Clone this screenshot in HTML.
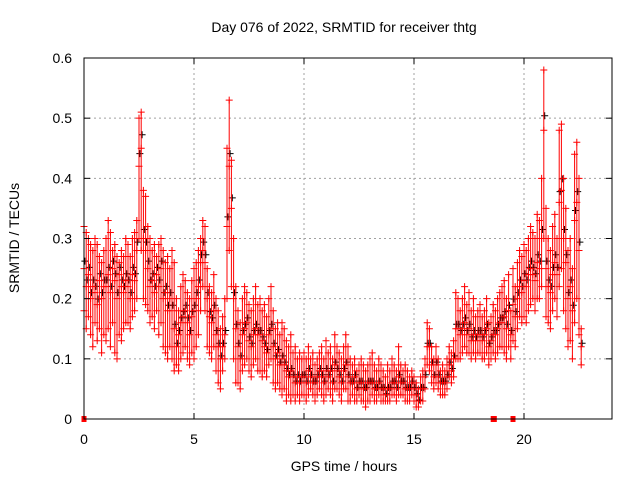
<!DOCTYPE html>
<html><head><meta charset="utf-8"><style>
html,body{margin:0;padding:0;background:#fff;}
svg{display:block;font-family:"Liberation Sans",sans-serif;}
</style></head><body>
<svg id="chart" width="640" height="480">
<text x="344" y="32" text-anchor="middle" font-size="14">Day 076 of 2022, SRMTID for receiver thtg</text>
<text x="344" y="471" text-anchor="middle" font-size="14">GPS time / hours</text>
<text transform="translate(19,238) rotate(-90)" text-anchor="middle" font-size="14">SRMTID / TECUs</text>
<g id="grid"></g>
<g id="marks"></g>
<rect x="84" y="58" width="528" height="361" fill="none" stroke="#000" stroke-width="1"/>
<g id="ticks"></g>
</svg>
<script>
const xTicks=[0,5,10,15,20];
const yTicks=[0,0.1,0.2,0.3,0.4,0.5,0.6];
const yTickLabels=["0","0.1","0.2","0.3","0.4","0.5","0.6"];
const startHour=0, stepHour=0.1;
const hiVals=[.32,.31,.30,.29,.28,.30,.29,.27,.26,.28,
.30,.33,.31,.28,.29,.27,.26,.28,.27,.30,
.29,.27,.30,.31,.33,.50,.51,.38,.37,.32,
.30,.28,.29,.27,.29,.30,.28,.26,.27,.25,
.28,.26,.20,.18,.22,.24,.23,.21,.20,.23,
.25,.26,.28,.30,.33,.32,.25,.22,.21,.24,
.20,.18,.15,.17,.20,.45,.53,.43,.30,.22,
.18,.16,.20,.22,.21,.19,.18,.20,.22,.19,
.20,.18,.19,.17,.20,.22,.18,.15,.16,.14,
.16,.15,.13,.12,.14,.11,.12,.10,.11,.10,
.11,.10,.12,.10,.11,.09,.10,.11,.12,.10,
.13,.11,.12,.10,.14,.12,.11,.10,.12,.14,
.12,.10,.09,.10,.08,.09,.10,.09,.08,.09,
.10,.11,.09,.08,.10,.09,.08,.07,.09,.08,
.10,.09,.08,.12,.09,.08,.09,.08,.07,.08,
.07,.06,.05,.07,.08,.10,.16,.15,.12,.10,
.12,.10,.08,.09,.08,.10,.12,.11,.13,.21,
.20,.18,.20,.22,.19,.21,.18,.20,.17,.18,
.19,.17,.18,.20,.16,.17,.19,.18,.20,.21,
.22,.23,.20,.24,.18,.25,.22,.26,.28,.27,
.29,.28,.30,.32,.31,.30,.34,.33,.40,.58,
.35,.30,.28,.32,.34,.30,.48,.49,.40,.35,
.28,.30,.25,.44,.46,.40,.15];
const midVals=[.25,.22,.24,.20,.22,.21,.19,.23,.20,.22,
.22,.24,.21,.25,.23,.20,.24,.22,.21,.23,
.22,.20,.24,.23,.28,.42,.45,.30,.28,.25,
.22,.23,.21,.24,.22,.25,.20,.21,.18,.20,
.18,.15,.12,.14,.16,.17,.18,.16,.14,.17,
.18,.20,.22,.26,.28,.26,.20,.17,.16,.18,
.14,.12,.10,.12,.14,.32,.42,.35,.20,.15,
.12,.10,.14,.15,.16,.13,.12,.14,.15,.14,
.14,.13,.12,.11,.14,.15,.12,.10,.11,.09,
.10,.09,.08,.07,.08,.07,.06,.07,.06,.07,
.07,.06,.08,.07,.06,.06,.07,.08,.07,.06,
.08,.07,.08,.06,.09,.08,.07,.06,.08,.09,
.07,.06,.06,.07,.05,.06,.06,.05,.05,.06,
.06,.06,.05,.05,.06,.05,.05,.04,.05,.05,
.06,.06,.05,.07,.06,.06,.05,.05,.05,.06,
.05,.04,.03,.05,.05,.07,.12,.12,.09,.07,
.09,.07,.06,.06,.06,.07,.09,.08,.10,.15,
.15,.14,.15,.16,.14,.15,.13,.14,.13,.14,
.14,.13,.14,.15,.12,.13,.14,.14,.15,.16,
.16,.17,.15,.18,.14,.19,.17,.20,.22,.21,
.23,.22,.24,.25,.24,.23,.26,.25,.30,.48,
.25,.22,.21,.24,.26,.24,.36,.38,.30,.26,
.20,.22,.18,.33,.36,.28,.12];
const loVals=[.18,.15,.17,.14,.12,.16,.13,.15,.11,.14,
.13,.15,.12,.16,.11,.10,.14,.13,.15,.16,
.16,.15,.17,.18,.20,.30,.28,.20,.19,.18,
.16,.17,.15,.18,.14,.16,.12,.11,.10,.12,
.10,.08,.09,.08,.10,.11,.12,.10,.09,.11,
.10,.12,.14,.18,.22,.18,.12,.11,.10,.12,
.08,.06,.05,.08,.10,.20,.28,.22,.10,.06,
.06,.05,.08,.09,.10,.08,.07,.09,.10,.08,
.08,.07,.08,.07,.09,.10,.06,.05,.06,.05,
.04,.05,.03,.04,.03,.04,.03,.04,.03,.04,
.04,.03,.04,.05,.04,.03,.04,.05,.04,.03,
.04,.05,.04,.03,.05,.05,.04,.03,.05,.05,
.03,.03,.04,.03,.03,.04,.03,.03,.02,.03,
.03,.04,.03,.03,.04,.03,.03,.03,.03,.03,
.04,.04,.03,.04,.04,.04,.03,.03,.03,.04,
.03,.02,.02,.03,.03,.05,.09,.08,.06,.05,
.06,.05,.04,.04,.04,.05,.07,.06,.07,.10,
.10,.10,.11,.12,.11,.11,.10,.11,.10,.11,
.11,.10,.10,.11,.09,.10,.11,.10,.11,.12,
.12,.11,.10,.12,.10,.13,.12,.15,.17,.16,
.17,.16,.18,.19,.20,.18,.20,.20,.22,.30,
.17,.16,.15,.18,.20,.17,.22,.25,.18,.15,
.12,.13,.10,.16,.20,.14,.09];
const zeroHours=[0,18.6,18.65,19.5];

const NS="http://www.w3.org/2000/svg";
const X0=84,X1=612,Y0=419,Y1=58;
function xs(h){return X0+(h/24)*(X1-X0);}
function ys(v){return Y0-(v/0.6)*(Y0-Y1);}
const grid=document.getElementById('grid'),ticks=document.getElementById('ticks'),marks=document.getElementById('marks');
function mk(tag,attrs,parent){const e=document.createElementNS(NS,tag);for(const k in attrs)e.setAttribute(k,attrs[k]);parent.appendChild(e);return e;}
xTicks.forEach(t=>{
  const x=xs(t);
  if(t>0){const g=mk('line',{x1:x,x2:x,y1:Y1,y2:Y0,stroke:'#a0a0a0','stroke-dasharray':'2,3'},grid);
  
  }
  mk('line',{x1:x,x2:x,y1:Y0,y2:Y0-6,stroke:'#000'},ticks);
  mk('line',{x1:x,x2:x,y1:Y1,y2:Y1+6,stroke:'#000'},ticks);
  const l=mk('text',{x:x,y:444,'text-anchor':'middle','font-size':'14'},ticks);l.textContent=t;
  
  
});
yTicks.forEach((t,i)=>{
  const y=ys(t);
  if(t>0&&t<0.6){const g=mk('line',{x1:X0,x2:X1,y1:y,y2:y,stroke:'#a0a0a0','stroke-dasharray':'2,3'},grid);
  
  }
  mk('line',{x1:X0,x2:X0+6,y1:y,y2:y,stroke:'#000'},ticks);
  mk('line',{x1:X1,x2:X1-6,y1:y,y2:y,stroke:'#000'},ticks);
  const l=mk('text',{x:72,y:y+5,'text-anchor':'end','font-size':'14'},ticks);l.textContent=yTickLabels[i];
  
  
});
function plus(h,v,col){
  const x=xs(h),y=ys(v);
  const p=mk('path',{d:`M${x-3.5},${y}H${x+3.5}M${x},${y-3.5}V${y+3.5}`,stroke:col,'stroke-width':'1',fill:'none'},marks);
  
  
}
midVals.forEach((v,i)=>{plus(startHour+stepHour*i+0.04,v*1.05,'#000');});
hiVals.forEach((v,i)=>{
  const h=startHour+stepHour*i;
  const r=mk('line',{x1:xs(h),x2:xs(h),y1:ys(loVals[i]),y2:ys(v),stroke:'#f00','stroke-width':'1'},marks);
  
  
  plus(h,v,'#f00');plus(h,midVals[i],'#f00');plus(h,loVals[i],'#f00');
});
zeroHours.forEach(h=>{
  const s=mk('rect',{x:xs(h)-2.5,y:Y0-3,width:5,height:6,fill:'#f00'},marks);
  
  
});
</script>
</body></html>
